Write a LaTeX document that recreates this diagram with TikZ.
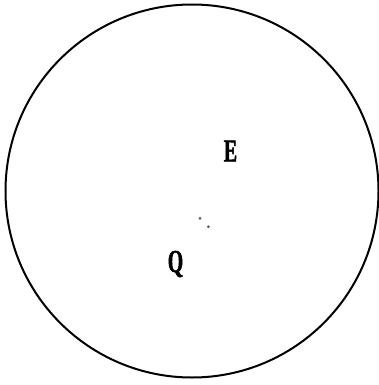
\documentclass[tikz,border=0pt]{standalone}
\usepackage{fontspec}
\newfontfamily\lblfont[FakeStretch=0.62, FakeBold=1.5]{Liberation Serif Bold}
\usepackage{tikz}
\usetikzlibrary{positioning}

\begin{document}
\begin{tikzpicture}[
  x=1pt, y=-1pt,
  lbl/.style={font=\fontsize{32}{32}\selectfont\lblfont, inner sep=0pt},
  speck/.style={fill=black!65, circle, inner sep=0pt, minimum size=3pt}
]
\useasboundingbox (0,0) rectangle (379,385);
\coordinate (o) at (192,191);
\draw[line width=2pt] (o) circle[radius=186.5];

\node[lbl] (e) at (230.5,151) {E};
\node[lbl] (q) at (175.5,264) {Q};

\node[speck] (d1) at (200,218.3) {};
\node[speck] (d2) at (208.3,226.7) {};
\end{tikzpicture}
\end{document}
